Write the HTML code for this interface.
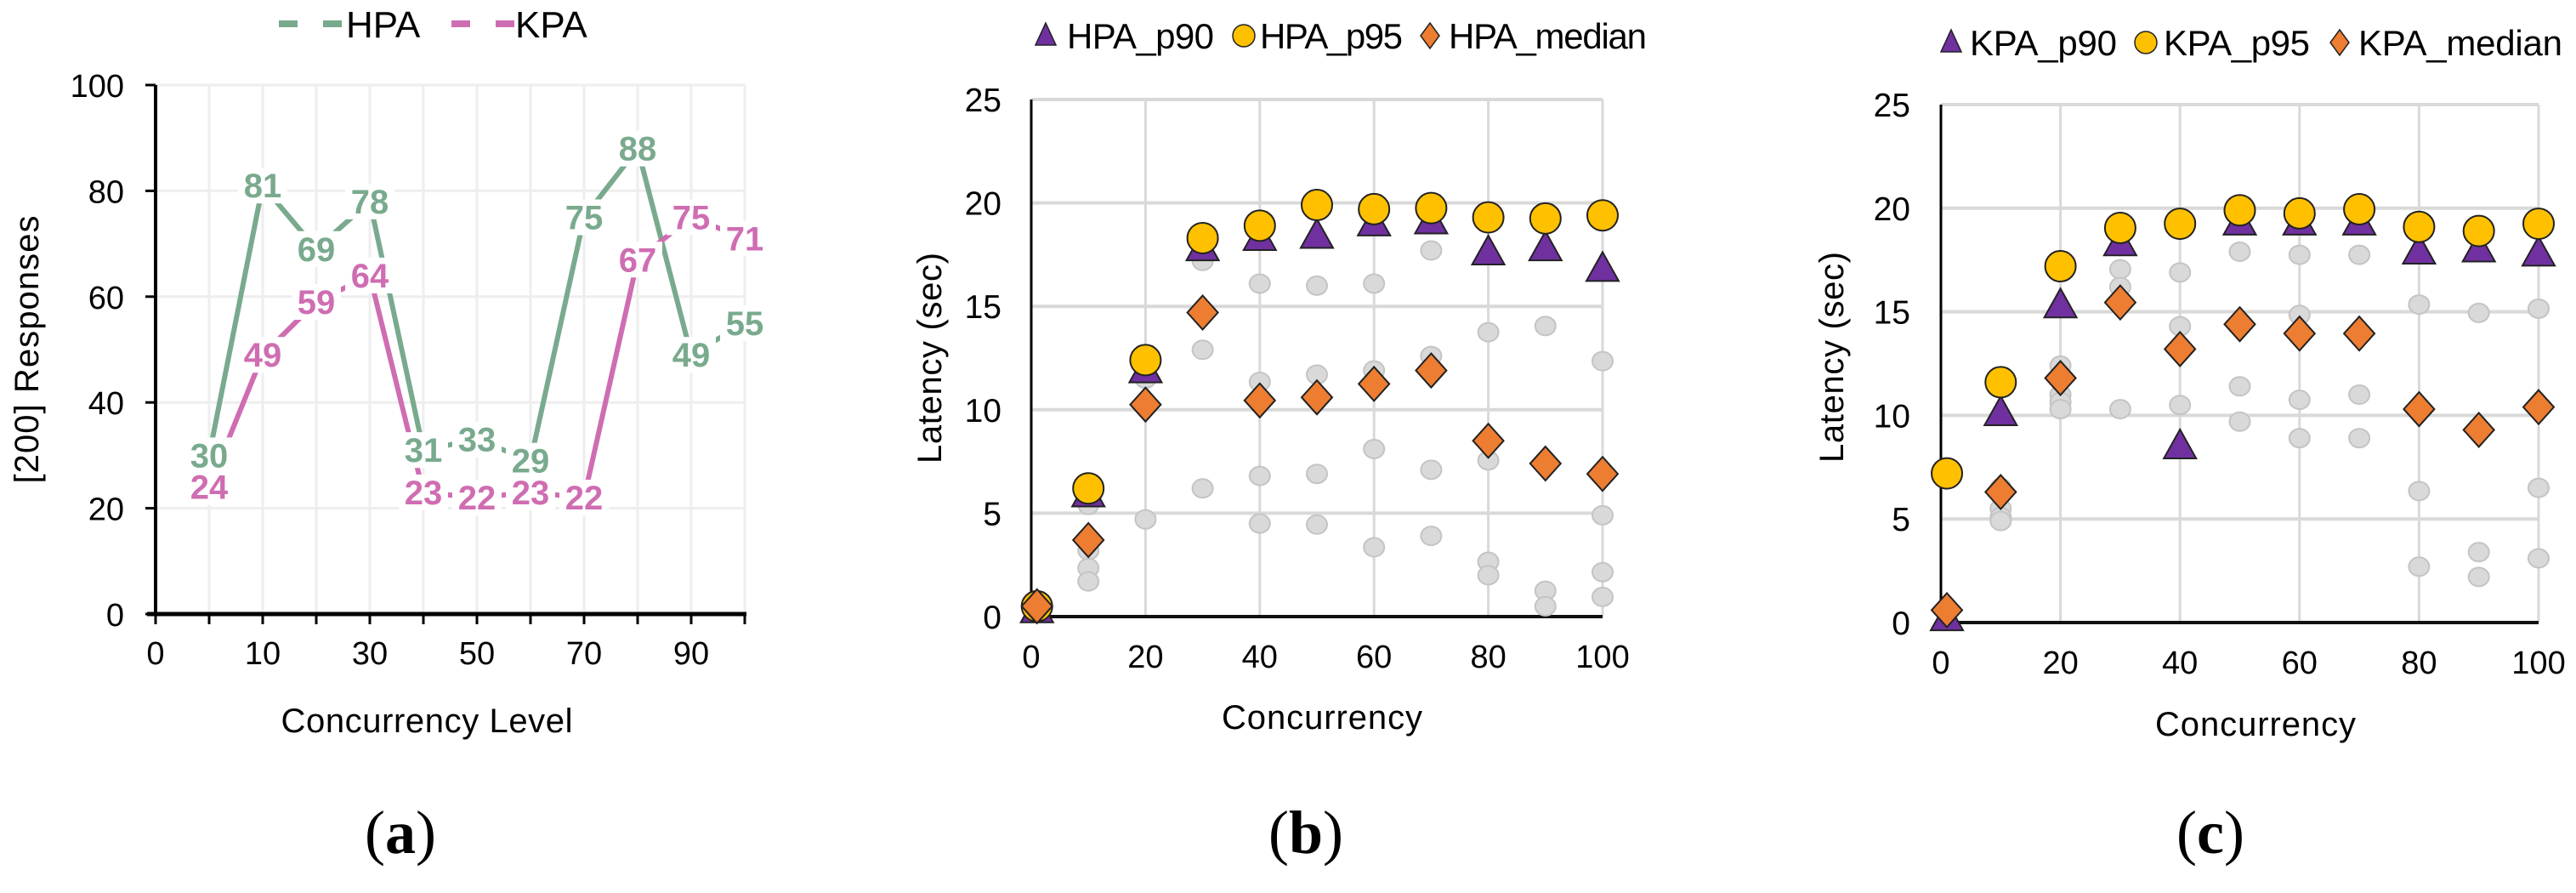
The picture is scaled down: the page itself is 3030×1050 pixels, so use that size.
<!DOCTYPE html>
<html><head><meta charset="utf-8"><style>
html,body{margin:0;padding:0;background:#fff;width:3030px;height:1050px;overflow:hidden}
svg{display:block;font-family:"Liberation Sans",sans-serif}
</style></head><body>
<svg id="fig" width="3030" height="1050" viewBox="0 0 3030 1050" xmlns="http://www.w3.org/2000/svg">
<rect x="0" y="0" width="3030" height="1050" fill="#fff"/>
<g id="pa"></g>
<g id="pb"></g>
<g id="pc"></g>
</svg>
<script>
// ---------- Panel (a) data ----------
const aCatIndex = [1,2,3,4,5,6,7,8,9,10,11];
const aHPA = [30,81,69,78,31,33,29,75,88,49,55];
const aKPA = [24,49,59,64,23,22,23,22,67,75,71];
const aXTickIdx = [0,2,4,6,8,10];
const aXTickLabels = ["0","10","30","50","70","90"];
const aYTicks = [0,20,40,60,80,100];

// ---------- Panel (b) data ----------
const bX = [1,10,20,30,40,50,60,70,80,90,100];
const bP90 = [0.3,5.9,11.9,17.8,18.3,18.4,19.0,19.1,17.6,17.8,16.8];
const bP95 = [0.5,6.2,12.4,18.3,18.9,19.9,19.7,19.75,19.3,19.25,19.4];
const bMed = [0.5,3.7,10.25,14.7,10.45,10.6,11.25,11.9,8.5,7.4,6.9];
const bGreyX = [10,10,10,10,20,20,30,30,30,40,40,40,40,50,50,50,50,60,60,60,60,70,70,70,70,80,80,80,80,90,90,90,100,100,100,100];
const bGreyY = [5.4,3.2,2.35,1.7,11.5,4.7,17.2,12.9,6.2,16.1,11.35,6.8,4.5,16.0,11.7,6.9,4.45,16.1,11.9,8.1,3.35,17.7,12.6,7.1,3.9,13.75,7.55,2.65,2.0,14.05,1.25,0.5,12.35,4.9,2.15,0.95];

// ---------- Panel (c) data ----------
const cX = [1,10,20,30,40,50,60,70,80,90,100];
const cP90 = [0.2,10.1,15.3,18.3,8.5,19.3,19.3,19.3,17.9,18.0,17.8];
const cP95 = [7.2,11.6,17.2,19.05,19.25,19.9,19.75,19.95,19.1,18.9,19.25];
const cMed = [0.6,6.3,11.8,15.45,13.2,14.4,13.95,13.95,10.3,9.3,10.4];
const cGreyX = [10,10,10,10,20,20,20,20,30,30,30,40,40,40,50,50,50,60,60,60,60,70,70,70,80,80,80,90,90,90,100,100,100];
const cGreyY = [6.5,5.5,5.1,4.9,12.4,11.0,10.65,10.3,17.05,16.2,10.3,16.9,14.3,10.5,17.9,11.4,9.7,17.75,14.85,10.75,8.9,17.75,11.0,8.9,15.35,6.35,2.7,14.95,3.4,2.2,15.15,6.5,3.1];

const xTicks = [0,20,40,60,80,100];
const yTicksLat = [0,5,10,15,20,25];

const NS = "http://www.w3.org/2000/svg";
function mk(parent, tag, attrs, text){
  const e = document.createElementNS(NS, tag);
  for (const k in attrs) e.setAttribute(k, attrs[k]);
  if (text !== undefined) e.textContent = text;
  parent.appendChild(e);
  return e;
}

// ================= Panel (a) =================
(function(){
  const g = document.getElementById('pa');
  const X0 = 183, STEP = 63, Y0 = 722, YS = 6.22;
  const xa = i => X0 + i*STEP;
  const ya = v => Y0 - v*YS;
  for (let i=1;i<=11;i++){
    const l = mk(g,'line',{x1:xa(i),x2:xa(i),y1:ya(100),y2:Y0,stroke:'#eeeeee','stroke-width':3});
    
    
  }
  aYTicks.forEach(v=>{
    if (v>0){
      const l = mk(g,'line',{x1:X0,x2:xa(11),y1:ya(v),y2:ya(v),stroke:'#eeeeee','stroke-width':3});
      
      
    }
    const t = mk(g,'line',{x1:X0-12,x2:X0,y1:ya(v),y2:ya(v),stroke:'#000','stroke-width':3});
    
    
    const lb = mk(g,'text',{x:146,y:ya(v)+14,'text-anchor':'end','font-size':38,fill:'#000'},String(v));
    
    
  });
  const ya1 = mk(g,'line',{x1:X0,x2:X0,y1:ya(100),y2:Y0,stroke:'#000','stroke-width':4});
  
  
  const xa1 = mk(g,'line',{x1:X0-10,x2:xa(11)+2,y1:Y0,y2:Y0,stroke:'#000','stroke-width':5});
  
  
  for (let i=0;i<=11;i++){
    const t = mk(g,'line',{x1:xa(i),x2:xa(i),y1:Y0,y2:Y0+12,stroke:'#000','stroke-width':3});
    
    
  }
  aXTickIdx.forEach((ix,k)=>{
    const t = mk(g,'text',{x:xa(ix),y:781,'text-anchor':'middle','font-size':38,fill:'#000'},aXTickLabels[k]);
    
    
  });
  const series = [{d:aHPA,c:'#79aa8e',n:'hpa'},{d:aKPA,c:'#cf6db2',n:'kpa'}];
  series.forEach(s=>{
    const pts = s.d.map((v,k)=>xa(aCatIndex[k])+','+ya(v)).join(' ');
    const p = mk(g,'polyline',{points:pts,fill:'none',stroke:s.c,'stroke-width':6,'stroke-linejoin':'round'});
    
    
  });
  [series[1],series[0]].forEach(s=>{
    s.d.forEach((v,k)=>{
      const x = xa(aCatIndex[k]), y = ya(v);
      const r = mk(g,'rect',{x:x-29,y:y-21,width:58,height:42,fill:'#fff'});
      
      
      const t = mk(g,'text',{x:x,y:y+14,'text-anchor':'middle','font-size':40,'font-weight':'bold',fill:s.c},String(v));
      
      
    });
  });
  const lg = mk(g,'g',{});
  
  
  [[328,'#79aa8e','HPA',407],[531,'#cf6db2','KPA',606]].forEach(a=>{
    const l = mk(lg,'line',{x1:a[0],x2:a[0]+74,y1:28,y2:28,stroke:a[1],'stroke-width':8,'stroke-dasharray':'22 30'});
    
    
    const t = mk(lg,'text',{x:a[3],y:44,'font-size':44,fill:'#000'},a[2]);
    
    
  });
  const yt = mk(g,'text',{x:0,y:0,transform:'translate(45,411) rotate(-90)','text-anchor':'middle','font-size':40,fill:'#000',textLength:315},'[200] Responses');
  
  
  const xt = mk(g,'text',{x:502,y:861,'text-anchor':'middle','font-size':40,fill:'#000',textLength:343},'Concurrency Level');
  
  
  const pl = mk(g,'text',{x:471,y:1003,'text-anchor':'middle','font-size':72,'font-family':'Liberation Serif, serif',fill:'#000'},'');
  
  
  mk(pl,'tspan',{},'(');
  mk(pl,'tspan',{'font-weight':'bold'},'a');
  mk(pl,'tspan',{},')');
})();

// ================= Scatter panels =================
function scatter(gid, cfg, X, P90, P95, MED, GX, GY){
  const g = document.getElementById(gid);
  const xs = v => cfg.x0 + v/100*(cfg.x1-cfg.x0);
  const ys = v => cfg.y0 - v/25*(cfg.y0-cfg.y25);
  xTicks.forEach(v=>{
    if (v>0){
      const l = mk(g,'line',{x1:xs(v),x2:xs(v),y1:ys(25),y2:cfg.y0,stroke:'#d9d9d9','stroke-width':3});
      
      
    }
    const t = mk(g,'text',{x:xs(v),y:cfg.tickY,'text-anchor':'middle','font-size':38,fill:'#000'},String(v));
    
    
  });
  yTicksLat.forEach(v=>{
    if (v>0){
      const l = mk(g,'line',{x1:cfg.x0,x2:xs(100),y1:ys(v),y2:ys(v),stroke:'#d9d9d9','stroke-width':4});
      
      
    }
    const t = mk(g,'text',{x:cfg.yLabR,y:ys(v)+14,'text-anchor':'end','font-size':39,fill:'#000'},String(v));
    
    
  });
  const ax = mk(g,'line',{x1:cfg.x0,x2:cfg.x0,y1:ys(25),y2:cfg.y0,stroke:'#000','stroke-width':3});
  
  
  const ax2 = mk(g,'line',{x1:cfg.x0,x2:xs(100),y1:cfg.y0,y2:cfg.y0,stroke:'#111','stroke-width':4});
  
  
  GX.forEach((xv,k)=>{
    const c = mk(g,'ellipse',{cx:xs(xv),cy:ys(GY[k]),rx:12,ry:11,fill:'#d9d9d9',stroke:'#c4c4c4','stroke-width':2});
    
    
  });
  X.forEach((xv,k)=>{
    const x = xs(xv), y = ys(P90[k]);
    const t = mk(g,'polygon',{points:`${x},${y-20} ${x-19},${y+14} ${x+19},${y+14}`,fill:'#7030a0',stroke:'#222','stroke-width':2});
    
    
  });
  X.forEach((xv,k)=>{
    const c = mk(g,'circle',{cx:xs(xv),cy:ys(P95[k]),r:18,fill:'#ffc000',stroke:'#222','stroke-width':2});
    
    
  });
  X.forEach((xv,k)=>{
    const x = xs(xv), y = ys(MED[k]);
    const d = mk(g,'polygon',{points:`${x},${y-20} ${x+18},${y} ${x},${y+20} ${x-18},${y}`,fill:'#ed7d31',stroke:'#222','stroke-width':2});
    
    
  });
  const lg = mk(g,'g',{});
  
  
  const L = cfg.leg, ly = cfg.legY;
  const tri = mk(lg,'polygon',{points:`${L[0]},${ly-15} ${L[0]-12},${ly+11} ${L[0]+12},${ly+11}`,fill:'#7030a0',stroke:'#222','stroke-width':1.5});
  
  
  const t1 = mk(lg,'text',{x:L[1],y:ly+15,'font-size':42,fill:'#000',textLength:L[2]-L[1]},cfg.pre+'_p90');
  
  
  const ci = mk(lg,'circle',{cx:L[3],cy:ly,r:13,fill:'#ffc000',stroke:'#222','stroke-width':1.5});
  
  
  const t2 = mk(lg,'text',{x:L[4],y:ly+15,'font-size':42,fill:'#000',textLength:L[5]-L[4]},cfg.pre+'_p95');
  
  
  const di = mk(lg,'polygon',{points:`${L[6]},${ly-15} ${L[6]+11},${ly} ${L[6]},${ly+15} ${L[6]-11},${ly}`,fill:'#ed7d31',stroke:'#222','stroke-width':1.5});
  
  
  const t3 = mk(lg,'text',{x:L[7],y:ly+15,'font-size':42,fill:'#000',textLength:L[8]-L[7]},cfg.pre+'_median');
  
  
  const yt = mk(g,'text',{x:0,y:0,transform:`translate(${cfg.yTitleX},${cfg.yTitleY}) rotate(-90)`,'text-anchor':'middle','font-size':40,fill:'#000',textLength:248},'Latency (sec)');
  
  
  const xt = mk(g,'text',{x:cfg.xTitleX,y:cfg.xTitleY,'text-anchor':'middle','font-size':40,fill:'#000',textLength:236},'Concurrency');
  
  
  const pl = mk(g,'text',{x:cfg.plX,y:1003,'text-anchor':'middle','font-size':72,'font-family':'Liberation Serif, serif',fill:'#000'},'');
  
  
  mk(pl,'tspan',{},'(');
  mk(pl,'tspan',{'font-weight':'bold'},cfg.letter);
  mk(pl,'tspan',{},')');
}

scatter('pb',{x0:1213,x1:1885,y0:725,y25:117,tickY:785,yLabR:1178,
  leg:[1230,1255,1428,1463,1482,1650,1682,1704,1937],legY:42,pre:'HPA',
  yTitleX:1107,yTitleY:421,xTitleX:1555,xTitleY:857,plX:1536,letter:'b'},
  bX,bP90,bP95,bMed,bGreyX,bGreyY);
scatter('pc',{x0:2283,x1:2986,y0:732,y25:123,tickY:792,yLabR:2247,
  leg:[2295,2317,2490,2524,2545,2717,2752,2774,3014],legY:50,pre:'KPA',
  yTitleX:2168,yTitleY:420,xTitleX:2653,xTitleY:865,plX:2600,letter:'c'},
  cX,cP90,cP95,cMed,cGreyX,cGreyY);
</script>
</body></html>
